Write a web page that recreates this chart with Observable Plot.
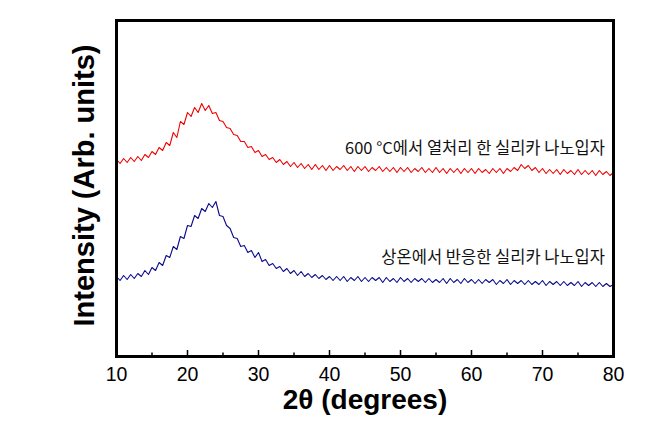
<!DOCTYPE html>
<html><head><meta charset="utf-8">
<script src="https://cdn.jsdelivr.net/npm/d3@7"></script>
<script src="https://cdn.jsdelivr.net/npm/@observablehq/plot@0.6"></script>
<style>html,body{margin:0;padding:0;background:#fff;}</style>
</head><body><div id="chart"></div>
<script>
// 2θ sampling positions (degrees), every 0.5°
const twoTheta = d3.range(10, 80.001, 0.5);
// Intensity (arb. units)
const red600 = [197,193,198,194,199,195,200,196,202,199,205,202,209,206,214,211,224,219,235,232,244,240,249,244,253,246,251,243,244,236,235,229,228,222,221,215,215,209,210,204,206,200,202,197,199,194,197,192,195,190,194,189,193,188,192,187,192,187,191,186,191,186,190,187,191,186,190,185,190,186,190,185,189,186,190,185,189,185,189,184,189,185,189,184,188,185,189,184,188,184,189,184,188,183,188,184,188,183,188,184,188,183,188,184,187,183,188,184,188,183,188,185,189,186,192,188,191,186,189,184,188,183,187,183,187,182,187,183,186,182,187,182,186,182,186,181,186,182,185,181,184];
const blueRT = [80,76,81,77,82,78,83,80,86,82,89,86,94,91,101,99,110,107,120,118,131,130,141,138,148,145,153,149,155,141,140,131,128,119,118,110,111,104,106,99,104,95,97,91,93,88,90,85,88,83,86,81,85,80,83,79,82,78,81,77,80,76,80,76,80,75,79,76,80,75,79,75,79,76,79,74,79,75,78,74,79,75,78,74,78,75,78,74,78,74,77,74,78,73,78,74,77,73,78,74,77,73,77,73,77,74,77,72,76,73,77,72,76,73,76,72,76,72,75,72,76,71,75,72,75,71,75,71,74,71,75,70,74,71,74,70,74,70,73,70,72];
const seriesNames = ["600 °C에서 열처리 한 실리카 나노입자", "상온에서 반응한 실리카 나노입자"];
const seriesColors = ["#f00000", "#0a0a8c"];
const majorTicks = [10,20,30,40,50,60,70,80];
const minorTicks = [15,25,35,45,55,65,75];
const xLabel = "2θ (degrees)";
const yLabel = "Intensity (Arb. units)";
// annotation anchor (2θ, intensity)
const labelX = [78.8, 78.8];
const labelY = [208, 99];

const rows = [];
twoTheta.forEach((x, i) => {
  rows.push({x, y: red600[i], s: seriesNames[0]});
  rows.push({x, y: blueRT[i], s: seriesNames[1]});
});
const labels = seriesNames.map((t, i) => ({t, x: labelX[i], y: labelY[i]}));

const plot = Plot.plot({
  width: 659, height: 425,
  marginLeft: 116, marginRight: 46, marginTop: 20, marginBottom: 69,
  style: {fontFamily: "'Liberation Sans', Arial, sans-serif", background: "#fff", color: "#000"},
  x: {domain: [10, 80]},
  y: {domain: [0, 336], axis: null},
  color: {domain: seriesNames, range: seriesColors},
  marks: [
    Plot.line(rows, {x: "x", y: "y", z: "s", stroke: "s", strokeWidth: 1.1}),
    Plot.ruleX(majorTicks, {x: d => d, y1: 0, y2: 6, stroke: "#000", strokeWidth: 1.5}),
    Plot.ruleX(minorTicks, {x: d => d, y1: 0, y2: 3.5, stroke: "#000", strokeWidth: 1.5}),
    Plot.axisX({ticks: majorTicks, tickSize: 0, tickPadding: 11, fontSize: 19.5, label: null, tickFormat: d => String(d)}),
    Plot.frame({stroke: "#000", strokeWidth: 3}),
    Plot.text(labels, {x: "x", y: "y", text: "t", textAnchor: "end", fontSize: 16.5, fill: "#111", fontFamily: "'Noto Sans CJK KR', 'Liberation Sans', sans-serif"}),
    Plot.text([xLabel], {frameAnchor: "bottom", dy: 44, lineAnchor: "middle", textAnchor: "middle", text: d => d, fontSize: 28, fontWeight: "bold"}),
    Plot.text([yLabel], {frameAnchor: "left", dx: -32, dy: -3, rotate: -90, textAnchor: "middle", lineAnchor: "middle", text: d => d, fontSize: 29, fontWeight: "bold"})
  ]
});
document.getElementById("chart").appendChild(plot);
</script>
</body></html>
